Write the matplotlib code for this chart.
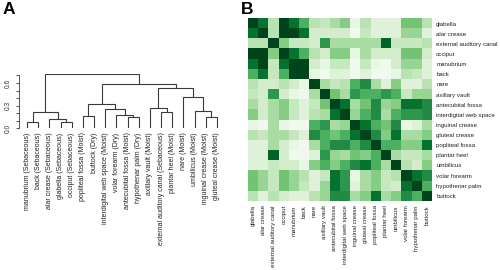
import numpy as np
import matplotlib
matplotlib.use('Agg')
import matplotlib.pyplot as plt

plt.rcParams['font.family'] = ['Liberation Sans', 'DejaVu Sans']

# dendrogram leaves in plotted order
leaf_labels = ['manubrium (Sebaceous)', 'back (Sebaceous)', 'alar crease (Sebaceous)',
               'glabella (Sebaceous)', 'occiput (Sebaceous)', 'popliteal fossa (Moist)',
               'buttock (Dry)', 'interdigital web space (Moist)', 'volar forearm (Dry)',
               'antecubital fossa (Moist)', 'hypothenar palm (Dry)', 'axillary vault (Moist)',
               'external auditory canal (Sebaceous)', 'plantar heel (Moist)', 'nare (Moist)',
               'umbilicus (Moist)', 'inguinal crease (Moist)', 'gluteal crease (Moist)']

# hclust style merges: negative = leaf (1-based), positive = earlier merge
merge_a = [-1, -4, -3, -10, -17, -6, -9, 1, -13, -16, -8, -12, 6, -15, 12, 13, 8]
merge_b = [-2, -5, 2, -11, -18, -7, 4, 3, -14, 5, 7, 9, 11, 10, 14, 15, 16]
merge_h = [0.08, 0.09, 0.12, 0.15, 0.155, 0.16, 0.17, 0.21, 0.21, 0.235,
           0.26, 0.27, 0.32, 0.41, 0.53, 0.59, 0.72]

# heatmap
sites = ['glabella', 'alar crease', 'external auditory canal', 'occiput', 'manubrium',
         'back', 'nare', 'axillary vault', 'antecubital fossa', 'interdigital web space',
         'inguinal crease', 'gluteal crease', 'popliteal fossa', 'plantar heel',
         'umbilicus', 'volar forearm', 'hypothenar palm', 'buttock']

sim = [
    [1.0, 0.85, 0.3, 1.0, 0.85, 0.6, 0.3, 0.25, 0.35, 0.45, 0.1, 0.3, 0.15, 0.15, 0.15, 0.5, 0.5, 0.3],
    [0.85, 1.0, 0.3, 1.0, 1.0, 0.85, 0.2, 0.2, 0.2, 0.2, 0.05, 0.25, 0.15, 0.15, 0.15, 0.4, 0.4, 0.15],
    [0.3, 0.3, 1.0, 0.45, 0.25, 0.25, 0.2, 0.7, 0.35, 0.35, 0.35, 0.35, 0.35, 0.9, 0.25, 0.25, 0.25, 0.3],
    [1.0, 1.0, 0.45, 1.0, 0.85, 0.6, 0.3, 0.2, 0.45, 0.45, 0.1, 0.35, 0.2, 0.2, 0.2, 0.5, 0.5, 0.2],
    [0.85, 1.0, 0.25, 0.85, 1.0, 1.0, 0.2, 0.1, 0.25, 0.25, 0.05, 0.25, 0.1, 0.05, 0.2, 0.4, 0.4, 0.15],
    [0.6, 0.85, 0.25, 0.6, 1.0, 1.0, 0.1, 0.05, 0.15, 0.15, 0.05, 0.15, 0.05, 0.05, 0.1, 0.3, 0.25, 0.15],
    [0.3, 0.2, 0.2, 0.3, 0.2, 0.1, 1.0, 0.35, 0.25, 0.3, 0.6, 0.75, 0.35, 0.15, 0.45, 0.15, 0.15, 0.3],
    [0.25, 0.2, 0.7, 0.2, 0.1, 0.05, 0.35, 1.0, 0.5, 0.35, 0.7, 0.6, 0.6, 0.7, 0.6, 0.25, 0.4, 0.4],
    [0.35, 0.2, 0.35, 0.45, 0.25, 0.15, 0.25, 0.5, 1.0, 0.85, 0.35, 0.5, 0.75, 0.4, 0.45, 0.85, 0.85, 0.75],
    [0.45, 0.2, 0.35, 0.45, 0.25, 0.15, 0.3, 0.35, 0.85, 1.0, 0.4, 0.6, 0.75, 0.35, 0.6, 0.7, 0.7, 0.75],
    [0.1, 0.05, 0.35, 0.1, 0.05, 0.05, 0.6, 0.7, 0.35, 0.4, 1.0, 0.85, 0.6, 0.5, 0.75, 0.1, 0.15, 0.35],
    [0.3, 0.25, 0.35, 0.35, 0.25, 0.15, 0.75, 0.6, 0.5, 0.6, 0.85, 1.0, 0.75, 0.45, 0.85, 0.35, 0.35, 0.45],
    [0.15, 0.15, 0.35, 0.2, 0.1, 0.05, 0.35, 0.6, 0.75, 0.75, 0.6, 0.75, 1.0, 0.6, 0.6, 0.45, 0.45, 0.85],
    [0.15, 0.15, 0.9, 0.2, 0.05, 0.05, 0.15, 0.7, 0.4, 0.35, 0.5, 0.45, 0.6, 1.0, 0.35, 0.25, 0.25, 0.35],
    [0.15, 0.15, 0.25, 0.2, 0.2, 0.1, 0.45, 0.6, 0.45, 0.6, 0.75, 0.85, 0.6, 0.35, 1.0, 0.3, 0.2, 0.45],
    [0.5, 0.4, 0.25, 0.5, 0.4, 0.3, 0.15, 0.25, 0.85, 0.7, 0.1, 0.35, 0.45, 0.25, 0.3, 1.0, 0.85, 0.75],
    [0.5, 0.4, 0.25, 0.5, 0.4, 0.25, 0.15, 0.4, 0.85, 0.7, 0.15, 0.35, 0.45, 0.25, 0.2, 0.85, 1.0, 0.6],
    [0.3, 0.15, 0.3, 0.2, 0.15, 0.15, 0.3, 0.4, 0.75, 0.75, 0.35, 0.45, 0.85, 0.35, 0.45, 0.75, 0.6, 1.0],
]

fig = plt.figure(figsize=(5, 2.7), dpi=100)

# --- panel A: dendrogram
ax = fig.add_axes([0.038, 0.5248, 0.412, 0.2015])
line_col = '#3a3a3a'
pos = {}
for i, (a, b, h) in enumerate(zip(merge_a, merge_b, merge_h)):
    xa, ya = (-a, 0.0) if a < 0 else pos[a]
    xb, yb = (-b, 0.0) if b < 0 else pos[b]
    ax.plot([xa, xa, xb, xb], [ya, h, h, yb], color=line_col, lw=0.8,
            solid_capstyle='butt', solid_joinstyle='miter')
    pos[i + 1] = ((xa + xb) / 2, h)

ax.set_xlim(0.284, 18.72)
ax.set_ylim(0, 0.72)
for s in ['top', 'right', 'bottom']:
    ax.spines[s].set_visible(False)
ax.spines['left'].set_bounds(0, 0.7)
ax.spines['left'].set_linewidth(0.6)
ax.spines['left'].set_color(line_col)
ax.set_yticks(np.arange(0, 0.71, 0.1))
ax.set_yticklabels(['0.0', '', '', '0.3', '', '', '0.6', ''], rotation=90, va='center',
                   fontsize=4.8, color='#333333')
ax.tick_params(axis='y', length=2.5, width=0.6, pad=3, color=line_col)
ax.set_xticks(np.arange(1, len(leaf_labels) + 1))
ax.set_xticklabels(leaf_labels, rotation=90, va='top', ha='center', fontsize=5.0, color='#222222')
ax.tick_params(axis='x', length=0, pad=3)

# --- panel B: heatmap
hx = fig.add_axes([0.496, 0.2556, 0.368, 0.676])
hx.imshow(np.array(sim), cmap='Greens', vmin=0, vmax=1, aspect='auto', interpolation='nearest')
for s in hx.spines.values():
    s.set_visible(False)
hx.set_xticks(np.arange(len(sites)))
hx.set_xticklabels(sites, rotation=90, fontsize=4.4, color='#222222')
hx.set_yticks(np.arange(len(sites)))
hx.set_yticklabels(sites, fontsize=4.4, color='#222222')
hx.yaxis.tick_right()
hx.tick_params(axis='both', length=0, pad=3)

# panel letters
fig.text(0.006, 0.993, 'A', fontsize=12.5, fontweight='bold', va='top', ha='left')
fig.text(0.482, 0.993, 'B', fontsize=12.5, fontweight='bold', va='top', ha='left')

fig.savefig('out.png', dpi=100)
